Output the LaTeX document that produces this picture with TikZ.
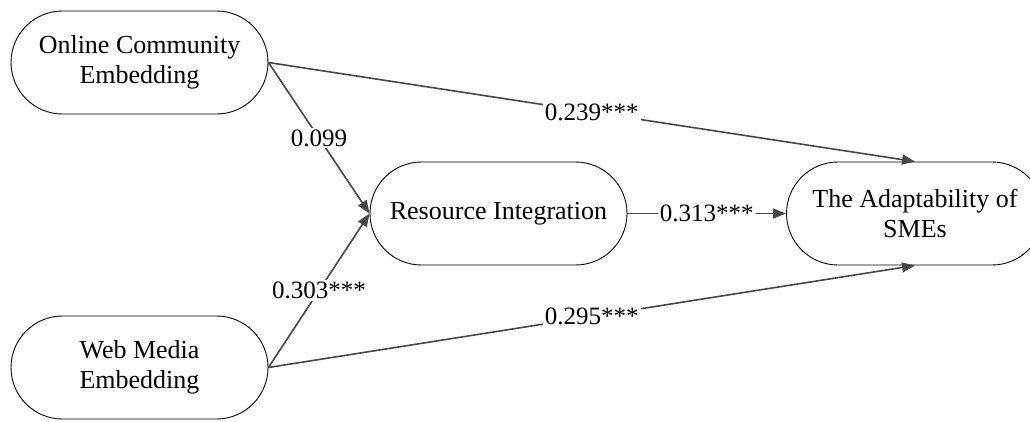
\documentclass[tikz,border=0pt]{standalone}
\usepackage{fontspec}
\setmainfont{Liberation Serif}
\usetikzlibrary{arrows.meta,calc}
\begin{document}
\begin{tikzpicture}[x=1pt,y=-1pt,
  box/.style={draw=black,line width=0.9pt,minimum width=257pt,minimum height=103pt,rounded corners=51.5pt,align=center,font=\fontsize{26}{30}\selectfont,inner sep=0pt},
  conn/.style={draw=black!72,line width=1.6pt,-{Triangle[length=13pt,width=10pt]}},
  lbl/.style={fill=white,inner sep=2pt,font=\fontsize{25}{28}\selectfont}]
\useasboundingbox (0,0) rectangle (1030,421);
\clip (0,0) rectangle (1030,421);
\node[box] (oce) at (139.5,62.5) {Online Community\\Embedding};
\node[box] (wme) at (139.5,367.5) {Web Media\\Embedding};
\node[box] (ri) at (498.5,213.5) {Resource Integration};
\node[box] (ad) at (915,213.5) {The Adaptability of\\SMEs};
\draw[conn] (oce.east) -- node[lbl]{0.099} (ri.west);
\draw[conn] (wme.east) -- node[lbl]{0.303***} (ri.west);
\draw[conn] (oce.east) -- node[lbl]{0.239***} (ad.north);
\draw[conn] (wme.east) -- node[lbl]{0.295***} (ad.south);
\draw[conn] (ri.east) -- node[lbl]{0.313***} (ad.west);
\end{tikzpicture}
\end{document}
